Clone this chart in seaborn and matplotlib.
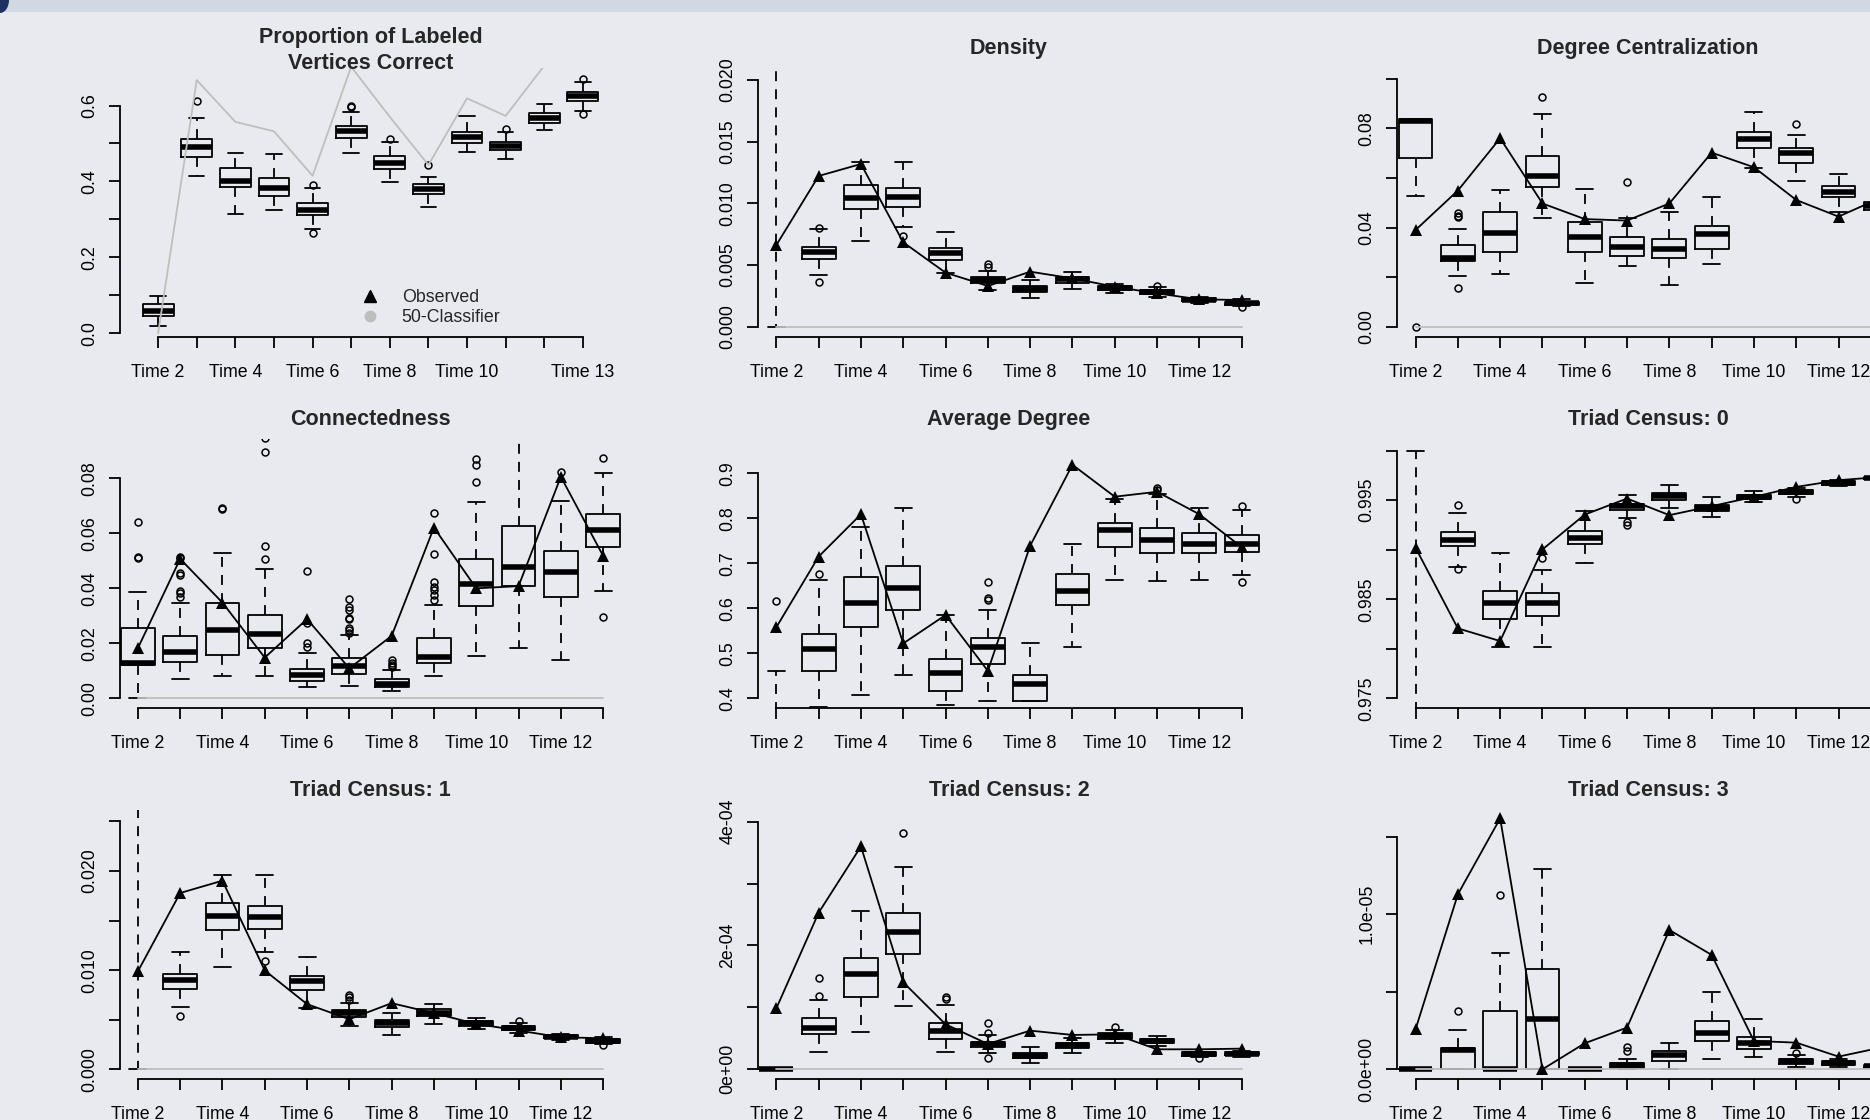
import numpy as np
import matplotlib
matplotlib.use("Agg")
import matplotlib.pyplot as plt
import seaborn as sns
from matplotlib.lines import Line2D
from matplotlib.patches import Rectangle, Ellipse

# Time points shown on every panel
TIMES = np.arange(2, 14)
XLABELS_FIRST = ["Time 2", "", "Time 4", "", "Time 6", "", "Time 8", "", "Time 10", "", "", "Time 13"]
XLABELS = ["Time 2", "", "Time 4", "", "Time 6", "", "Time 8", "", "Time 10", "", "Time 12", ""]

# Proportion of labeled vertices correct
PROP_LO = [0.018, 0.415, 0.314, 0.324, 0.275, 0.475, 0.399, 0.332, 0.478, 0.458, 0.535, 0.585]
PROP_Q1 = [0.046, 0.465, 0.385, 0.361, 0.311, 0.514, 0.434, 0.367, 0.500, 0.483, 0.555, 0.612]
PROP_MED = [0.059, 0.491, 0.402, 0.382, 0.326, 0.533, 0.449, 0.380, 0.518, 0.494, 0.568, 0.625]
PROP_Q3 = [0.076, 0.513, 0.436, 0.409, 0.344, 0.546, 0.467, 0.393, 0.531, 0.504, 0.579, 0.636]
PROP_HI = [0.099, 0.568, 0.475, 0.473, 0.384, 0.582, 0.503, 0.412, 0.573, 0.529, 0.603, 0.661]
PROP_FLIERS = [[], [0.611], [], [], [0.390, 0.263], [0.596, 0.600], [0.513], [0.443], [], [0.539], [],
               [0.669, 0.577]]
PROP_CLF = [0.0, 0.667, 0.557, 0.532, 0.415, 0.702, 0.57, 0.4435, 0.619, 0.5726, 0.705, 0.74]

# Density
DENS_LO = [0.0, 0.00419, 0.00697, 0.00811, 0.00432, 0.00297, 0.00235, 0.00308, 0.0027, 0.0024, 0.00195, 0.00168]
DENS_Q1 = [0.030, 0.00546, 0.00954, 0.00973, 0.00541, 0.00357, 0.00281, 0.00357, 0.00297, 0.00265, 0.00208, 0.00178]
DENS_MED = [0.032, 0.00603, 0.01046, 0.01054, 0.00595, 0.00378, 0.00308, 0.00384, 0.00316, 0.00281, 0.00219, 0.00189]
DENS_Q3 = [0.034, 0.00649, 0.01149, 0.01127, 0.00635, 0.00405, 0.0033, 0.00405, 0.0033, 0.00297, 0.0023, 0.00203]
DENS_HI = [0.036, 0.00789, 0.01338, 0.01338, 0.00765, 0.00454, 0.00378, 0.00446, 0.00343, 0.00319, 0.00243, 0.00222]
DENS_FLIERS = [[], [0.00803, 0.00365], [], [0.00735], [], [0.00505, 0.00486], [], [], [], [0.0033], [], [0.00162]]
DENS_OBS = [0.00662, 0.01222, 0.01319, 0.00684, 0.00438, 0.0033, 0.00446, 0.00392, 0.00324, 0.0027, 0.00222, 0.00216]

# Degree centralization
DEG_LO = [0.0528, 0.0204, 0.0211, 0.0440, 0.0175, 0.0246, 0.0168, 0.0251, 0.0639, 0.0589, 0.0464, 0.0455]
DEG_Q1 = [0.0679, 0.0265, 0.0300, 0.0562, 0.0300, 0.0285, 0.0276, 0.0313, 0.0722, 0.0662, 0.0522, 0.0471]
DEG_MED = [0.0831, 0.0278, 0.0379, 0.0609, 0.0363, 0.0323, 0.0312, 0.0374, 0.0756, 0.0699, 0.0545, 0.0487]
DEG_Q3 = [0.0838, 0.0329, 0.0461, 0.0690, 0.0424, 0.0360, 0.0352, 0.0406, 0.0784, 0.0722, 0.0569, 0.0504]
DEG_HI = [0.0838, 0.0393, 0.0551, 0.0856, 0.0555, 0.0437, 0.0461, 0.0524, 0.0867, 0.0774, 0.0616, 0.0525]
DEG_FLIERS = [[0.0], [0.0457, 0.0446, 0.0441, 0.0155], [], [0.0928], [], [0.0585], [], [], [], [0.0816], [], []]
DEG_OBS = [0.0390, 0.0549, 0.0760, 0.0497, 0.0434, 0.0428, 0.0497, 0.0702, 0.0643, 0.0511, 0.0444, 0.052]

# Connectedness
CONN_LO = [0.0, 0.0070, 0.0080, 0.0080, 0.0042, 0.0045, 0.0027, 0.0080, 0.0154, 0.0182, 0.0139, 0.0389]
CONN_Q1 = [0.0121, 0.0133, 0.0156, 0.0184, 0.0063, 0.0087, 0.0042, 0.0130, 0.0336, 0.0408, 0.0367, 0.0552]
CONN_MED = [0.0127, 0.0167, 0.0248, 0.0234, 0.0086, 0.0119, 0.0052, 0.0152, 0.0416, 0.0476, 0.0461, 0.0612]
CONN_Q3 = [0.0257, 0.0227, 0.0348, 0.0304, 0.0108, 0.0148, 0.0069, 0.0218, 0.0505, 0.0628, 0.0537, 0.0669]
CONN_HI = [0.0387, 0.0348, 0.0527, 0.0472, 0.0166, 0.0230, 0.0103, 0.0339, 0.0713, 0.1000, 0.0719, 0.0821]
CONN_FLIERS = [[0.0642, 0.0515, 0.0511],
               [0.0515, 0.0509, 0.0455, 0.0449, 0.0392, 0.0384, 0.0370],
               [0.0691, 0.0687],
               [0.0945, 0.0895, 0.0555, 0.0507],
               [0.0464, 0.0275, 0.0202, 0.0185],
               [0.0361, 0.0331, 0.0322, 0.0293, 0.0287, 0.0255, 0.0249, 0.0236],
               [0.0139, 0.0130, 0.0121, 0.0113],
               [0.0673, 0.0525, 0.0424, 0.0406, 0.0394, 0.0376, 0.0358],
               [0.0869, 0.0848, 0.0788], [], [0.0824], [0.0875, 0.0296]]
CONN_OBS = [0.0182, 0.0507, 0.0348, 0.0148, 0.0288, 0.0109, 0.0227, 0.0621, 0.0400, 0.0408, 0.0806, 0.0518]

# Average degree
AVG_LO = [0.30, 0.38, 0.407, 0.452, 0.385, 0.393, 0.393, 0.513, 0.663, 0.661, 0.663, 0.674]
AVG_Q1 = [0.33, 0.461, 0.559, 0.596, 0.416, 0.476, 0.393, 0.607, 0.737, 0.724, 0.724, 0.726]
AVG_MED = [0.35, 0.510, 0.611, 0.646, 0.456, 0.515, 0.431, 0.639, 0.774, 0.752, 0.744, 0.743]
AVG_Q3 = [0.37, 0.544, 0.670, 0.694, 0.487, 0.533, 0.451, 0.676, 0.790, 0.778, 0.767, 0.764]
AVG_HI = [0.461, 0.663, 0.781, 0.824, 0.585, 0.596, 0.524, 0.742, 0.844, 0.854, 0.824, 0.819]
AVG_FLIERS = [[0.616], [0.676], [], [], [], [0.658, 0.622, 0.619], [], [], [], [0.868, 0.863], [], [0.827, 0.659]]
AVG_OBS = [0.558, 0.715, 0.809, 0.522, 0.585, 0.461, 0.739, 0.919, 0.848, 0.859, 0.809, 0.736]

# Triad census: 0
TRI0_LO = [0.950, 0.98821, 0.98021, 0.98021, 0.98861, 0.99325, 0.99426, 0.99332, 0.9948, 0.99534, 0.99641, 0.99695]
TRI0_Q1 = [0.960, 0.99036, 0.98303, 0.98334, 0.99053, 0.99399, 0.995, 0.99392, 0.99513, 0.99561, 0.99658, 0.9971]
TRI0_MED = [0.965, 0.99103, 0.98458, 0.98458, 0.9912, 0.9944, 0.9954, 0.99426, 0.99537, 0.99584, 0.99678, 0.9972]
TRI0_Q3 = [0.970, 0.99181, 0.98582, 0.98566, 0.99191, 0.99466, 0.99574, 0.99456, 0.99557, 0.99601, 0.99695, 0.99735]
TRI0_HI = [1.000, 0.99366, 0.98962, 0.98794, 0.99389, 0.9955, 0.99651, 0.99534, 0.99594, 0.99628, 0.99708, 0.99745]
TRI0_FLIERS = [[], [0.9945, 0.98801], [], [0.98912], [], [0.99282, 0.99248], [], [], [], [0.99513], [], []]
TRI0_OBS = [0.9902, 0.98206, 0.98078, 0.99003, 0.99355, 0.99517, 0.99349, 0.9944, 0.99534, 0.99634, 0.99702, 0.99735]

# Triad census: 1
TRI1_LO = [0.0, 0.00626, 0.01027, 0.01182, 0.00616, 0.00441, 0.00347, 0.00458, 0.00404, 0.00364, 0.00296, 0.00256]
TRI1_Q1 = [0.030, 0.00808, 0.01401, 0.01418, 0.00801, 0.00532, 0.00424, 0.00539, 0.00438, 0.00397, 0.00313, 0.00269]
TRI1_MED = [0.032, 0.00902, 0.01542, 0.01535, 0.00886, 0.00566, 0.00465, 0.00572, 0.00465, 0.00421, 0.0033, 0.00286]
TRI1_Q3 = [0.034, 0.00963, 0.01677, 0.0165, 0.00943, 0.00599, 0.00498, 0.00606, 0.00488, 0.00441, 0.00343, 0.00303]
TRI1_HI = [0.036, 0.01182, 0.0196, 0.01956, 0.01128, 0.00673, 0.00566, 0.0066, 0.00515, 0.00465, 0.00357, 0.00323]
TRI1_FLIERS = [[], [0.00542], [], [0.01088], [], [0.0075, 0.00727, 0.007], [], [], [], [0.00488], [], [0.00246]]
TRI1_OBS = [0.00987, 0.01778, 0.01902, 0.00997, 0.00657, 0.00505, 0.00667, 0.00566, 0.00458, 0.00391, 0.00323, 0.00313]

# Triad census: 2
TRI2_LO = [0, 2.75e-5, 5.98e-5, 1.03e-4, 2.85e-5, 2.69e-5, 1.08e-5, 2.58e-5, 4.31e-5, 3.77e-5, 2.05e-5, 2.05e-5]
TRI2_Q1 = [0, 5.65e-5, 1.163e-4, 1.87e-4, 4.85e-5, 3.55e-5, 1.78e-5, 3.5e-5, 4.95e-5, 4.2e-5, 2.21e-5, 2.26e-5]
TRI2_MED = [0, 6.73e-5, 1.545e-4, 2.22e-4, 6.25e-5, 4.04e-5, 2.21e-5, 3.93e-5, 5.38e-5, 4.58e-5, 2.48e-5, 2.53e-5]
TRI2_Q3 = [0, 8.24e-5, 1.80e-4, 2.52e-4, 7.43e-5, 4.36e-5, 2.58e-5, 4.31e-5, 5.81e-5, 4.95e-5, 2.75e-5, 2.8e-5]
TRI2_HI = [0, 1.12e-4, 2.55e-4, 3.26e-4, 1.04e-4, 5.55e-5, 3.55e-5, 5.11e-5, 6.35e-5, 5.44e-5, 2.85e-5, 3.0e-5]
TRI2_FLIERS = [[], [1.47e-4, 1.19e-4], [], [3.81e-4], [1.16e-4, 1.13e-4], [7.43e-5, 5.81e-5, 1.88e-5], [], [],
               [6.78e-5], [], [1.88e-5], []]
TRI2_OBS = [9.85e-5, 2.53e-4, 3.60e-4, 1.405e-4, 7.27e-5, 4.09e-5, 6.25e-5, 5.55e-5, 5.65e-5, 3.23e-5, 3.23e-5, 3.34e-5]

# Triad census: 3
TRI3_LO = [0, 0, 0, 0, 0, 0, 0, 6.7e-7, 7.7e-7, 1.7e-7, 1.7e-7, 0.5e-7]
TRI3_Q1 = [0, 0, 0, 0, 0, 6e-8, 5.6e-7, 1.83e-6, 1.31e-6, 3.7e-7, 3.0e-7, 1.0e-7]
TRI3_MED = [0, 1.25e-6, 0, 3.25e-6, 0, 2.6e-7, 9e-7, 2.32e-6, 1.68e-6, 5.2e-7, 4.3e-7, 2.0e-7]
TRI3_Q3 = [0, 1.35e-6, 3.76e-6, 6.45e-6, 0, 4.3e-7, 1.18e-6, 3.14e-6, 2.11e-6, 6.7e-7, 5.6e-7, 2.8e-7]
TRI3_HI = [0, 2.54e-6, 7.48e-6, 1.29e-5, 0, 6.7e-7, 1.72e-6, 4.97e-6, 3.23e-6, 9.2e-7, 6.9e-7, 4.0e-7]
TRI3_FLIERS = [[], [3.78e-6], [1.125e-5], [], [], [1.42e-6, 1.2e-6], [], [], [], [1.03e-6], [], []]
TRI3_OBS = [2.58e-6, 1.129e-5, 1.619e-5, 0.0, 1.68e-6, 2.69e-6, 8.99e-6, 7.38e-6, 1.83e-6, 1.72e-6, 8.2e-7, 1.4e-6]

# 50-classifier reference is zero for the network statistics
ZERO_CLF = [0.0] * 12

BG = "#e9eaef"
GRAY = "#bebebe"
FONT = ["Liberation Sans", "DejaVu Sans"]

# layout in pixels (figure is 1870 x 1120)
FIG_W, FIG_H = 1870, 1120
COL_LEFT = [119.5, 758.0, 1397.2]
ROW_TOP = [68.3, 439.3, 810.3]
AX_W, AX_H = 502, 269


def make_stats(lo, q1, med, q3, hi, fliers):
    return [dict(whislo=a, q1=b, med=c, q3=d, whishi=e, fliers=f)
            for a, b, c, d, e, f in zip(lo, q1, med, q3, hi, fliers)]


PANELS = [
    dict(title="Proportion of Labeled\nVertices Correct",
         stats=make_stats(PROP_LO, PROP_Q1, PROP_MED, PROP_Q3, PROP_HI, PROP_FLIERS),
         obs=None, clf=PROP_CLF, xlim=(1.0, 14.0), xlabels=XLABELS_FIRST,
         yticks=[0.0, 0.1, 0.2, 0.3, 0.4, 0.5, 0.6], ylabels=["0.0", "", "0.2", "", "0.4", "", "0.6"],
         ylim=(-0.0105, 0.698), title_pad=-0.6),
    dict(title="Density",
         stats=make_stats(DENS_LO, DENS_Q1, DENS_MED, DENS_Q3, DENS_HI, DENS_FLIERS),
         obs=DENS_OBS, clf=ZERO_CLF, xlim=(1.566, 13.434), xlabels=XLABELS,
         yticks=[0.0, 0.005, 0.01, 0.015, 0.02], ylabels=["0.000", "0.005", "0.010", "0.015", "0.020"],
         ylim=(-0.00086, 0.02095)),
    dict(title="Degree Centralization",
         stats=make_stats(DEG_LO, DEG_Q1, DEG_MED, DEG_Q3, DEG_HI, DEG_FLIERS),
         obs=DEG_OBS, clf=ZERO_CLF, xlim=(1.566, 13.434), xlabels=XLABELS,
         yticks=[0.0, 0.02, 0.04, 0.06, 0.08, 0.10], ylabels=["0.00", "", "0.04", "", "0.08", ""],
         ylim=(-0.00427, 0.1042)),
    dict(title="Connectedness",
         stats=make_stats(CONN_LO, CONN_Q1, CONN_MED, CONN_Q3, CONN_HI, CONN_FLIERS),
         obs=CONN_OBS, clf=ZERO_CLF, xlim=(1.566, 13.434), xlabels=XLABELS,
         yticks=[0.0, 0.02, 0.04, 0.06, 0.08], ylabels=["0.00", "0.02", "0.04", "0.06", "0.08"],
         ylim=(-0.00364, 0.0942)),
    dict(title="Average Degree",
         stats=make_stats(AVG_LO, AVG_Q1, AVG_MED, AVG_Q3, AVG_HI, AVG_FLIERS),
         obs=AVG_OBS, clf=ZERO_CLF, xlim=(1.566, 13.434), xlabels=XLABELS,
         yticks=[0.4, 0.5, 0.6, 0.7, 0.8, 0.9], ylabels=["0.4", "0.5", "0.6", "0.7", "0.8", "0.9"],
         ylim=(0.3778, 0.9756)),
    dict(title="Triad Census: 0",
         stats=make_stats(TRI0_LO, TRI0_Q1, TRI0_MED, TRI0_Q3, TRI0_HI, TRI0_FLIERS),
         obs=TRI0_OBS, clf=ZERO_CLF, xlim=(1.566, 13.434), xlabels=XLABELS,
         yticks=[0.975, 0.98, 0.985, 0.99, 0.995, 1.0], ylabels=["0.975", "", "0.985", "", "0.995", ""],
         ylim=(0.97399, 1.00115)),
    dict(title="Triad Census: 1",
         stats=make_stats(TRI1_LO, TRI1_Q1, TRI1_MED, TRI1_Q3, TRI1_HI, TRI1_FLIERS),
         obs=TRI1_OBS, clf=ZERO_CLF, xlim=(1.566, 13.434), xlabels=XLABELS,
         yticks=[0.0, 0.005, 0.01, 0.015, 0.02, 0.025], ylabels=["0.000", "", "0.010", "", "0.020", ""],
         ylim=(-0.00101, 0.02612)),
    dict(title="Triad Census: 2",
         stats=make_stats(TRI2_LO, TRI2_Q1, TRI2_MED, TRI2_Q3, TRI2_HI, TRI2_FLIERS),
         obs=TRI2_OBS, clf=ZERO_CLF, xlim=(1.566, 13.434), xlabels=XLABELS,
         yticks=[0.0, 1e-4, 2e-4, 3e-4, 4e-4], ylabels=["0e+00", "", "2e-04", "", "4e-04"],
         ylim=(-1.615e-5, 4.184e-4)),
    dict(title="Triad Census: 3",
         stats=make_stats(TRI3_LO, TRI3_Q1, TRI3_MED, TRI3_Q3, TRI3_HI, TRI3_FLIERS),
         obs=TRI3_OBS, clf=ZERO_CLF, xlim=(1.566, 13.434), xlabels=XLABELS,
         yticks=[0.0, 5e-6, 1e-5, 1.5e-5], ylabels=["0.0e+00", "", "1.0e-05", ""],
         ylim=(-6.45e-7, 1.671e-5)),
]


def draw_panel(ax, p):
    ax.set_facecolor(BG)
    ax.bxp(p["stats"], positions=TIMES, widths=0.8, capwidths=0.4, manage_ticks=False,
           boxprops=dict(color="black", linewidth=1.3),
           whiskerprops=dict(color="black", linewidth=1.3, linestyle=(0, (5.5, 4.5))),
           capprops=dict(color="black", linewidth=1.3),
           medianprops=dict(color="black", linewidth=4.0, solid_capstyle="butt"),
           flierprops=dict(marker="o", markerfacecolor="none", markeredgecolor="black",
                           markersize=5, markeredgewidth=1.1, linestyle="none"))
    sns.lineplot(x=TIMES, y=p["clf"], color=GRAY, linewidth=1.3, ax=ax, zorder=2.5)
    if p["obs"] is not None:
        sns.lineplot(x=TIMES, y=p["obs"], color="black", linewidth=1.3, marker="^",
                     markersize=9, markeredgewidth=0, ax=ax, zorder=3)

    ax.set_xlim(p["xlim"])
    ax.set_ylim(p["ylim"])
    ax.set_xticks(TIMES)
    ax.set_xticklabels(p["xlabels"])
    ax.set_yticks(p["yticks"])
    ax.set_yticklabels(p["ylabels"], rotation=90, va="center")
    ax.set_xlabel("")
    ax.set_ylabel("")
    ax.tick_params(axis="both", length=8, width=1.3, labelsize=12.8, color="black", labelcolor="black")
    ax.tick_params(axis="x", pad=11)
    ax.tick_params(axis="y", pad=7.5)
    for side in ["top", "right"]:
        ax.spines[side].set_visible(False)
    ax.spines["left"].set_bounds(p["yticks"][0], p["yticks"][-1])
    ax.spines["bottom"].set_bounds(TIMES[0], TIMES[-1])
    for side in ["left", "bottom"]:
        ax.spines[side].set_linewidth(1.3)
        ax.spines[side].set_color("black")

    title_kw = dict(fontsize=15.5, fontweight="bold", linespacing=1.3)
    if "title_pad" in p:
        # fixed position so matplotlib does not push the two-line title upward
        ax.set_title(p["title"], y=1.0, pad=p["title_pad"], **title_kw)
    else:
        ax.set_title(p["title"], pad=10.5, **title_kw)


def main():
    sns.set_theme(style="ticks")
    plt.rcParams["font.family"] = FONT
    plt.rcParams["axes.facecolor"] = BG
    plt.rcParams["figure.facecolor"] = BG

    fig = plt.figure(figsize=(FIG_W / 100, FIG_H / 100), dpi=100)
    fig.patch.set_facecolor(BG)

    # strip of the page header visible at the top of the screenshot
    fig.patches.append(Rectangle((0, 1 - 12 / FIG_H), 1, 12 / FIG_H, transform=fig.transFigure,
                                 facecolor="#d2d8e1", edgecolor="none", zorder=0))
    fig.patches.append(Ellipse((0, 1), 2 * 9 / FIG_W, 2 * 13 / FIG_H, transform=fig.transFigure,
                               facecolor="#1d3263", edgecolor="none", zorder=1))

    for i, p in enumerate(PANELS):
        row, col = divmod(i, 3)
        left = COL_LEFT[col] / FIG_W
        bottom = 1 - (ROW_TOP[row] + AX_H) / FIG_H
        ax = fig.add_axes([left, bottom, AX_W / FIG_W, AX_H / FIG_H])
        draw_panel(ax, p)

        if i == 0:
            handles = [Line2D([], [], marker="^", color="black", linestyle="none", markersize=9),
                       Line2D([], [], marker="o", color=GRAY, linestyle="none", markersize=7.5)]
            ax.legend(handles, ["Observed", "50-Classifier"], loc="upper left",
                      bbox_to_anchor=(0.463, 0.212), frameon=False, fontsize=12.8,
                      handlelength=1.0, handletextpad=1.3, labelspacing=0.15, borderpad=0)

    fig.savefig("out.png", dpi=100, facecolor=BG)
    plt.close(fig)


if __name__ == "__main__":
    main()
